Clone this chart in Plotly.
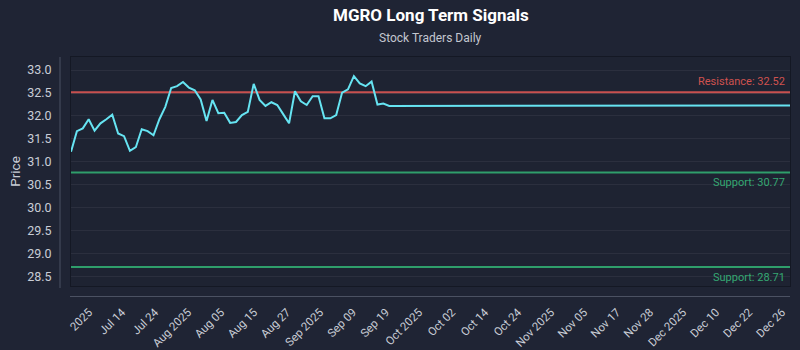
import numpy as np
import plotly.graph_objects as go

# ---------------- data ----------------
hist_prices = [31.22, 31.67, 31.73, 31.93, 31.68, 31.84, 31.93, 32.03, 31.62, 31.56,
               31.24, 31.32, 31.71, 31.67, 31.58, 31.93, 32.20, 32.61, 32.65, 32.74,
               32.62, 32.56, 32.36, 31.89, 32.35, 32.06, 32.07, 31.85, 31.87, 32.02,
               32.09, 32.70, 32.35, 32.22, 32.30, 32.24, 32.04, 31.84, 32.54, 32.32,
               32.24, 32.43, 32.43, 31.95, 31.95, 32.02, 32.51, 32.58, 32.87, 32.71,
               32.65, 32.75, 32.25, 32.27, 32.22]
forecast_prices = [32.22, 32.23, 32.22, 32.22, 32.23, 32.22, 32.22, 32.23, 32.22, 32.22,
                   32.23, 32.22, 32.22, 32.23, 32.22, 32.22, 32.23, 32.22, 32.22, 32.23,
                   32.22, 32.22, 32.23, 32.22, 32.22, 32.23, 32.22, 32.22, 32.23, 32.22,
                   32.22, 32.23, 32.22, 32.22, 32.23, 32.22, 32.22, 32.23, 32.22, 32.22,
                   32.23, 32.22, 32.22, 32.23, 32.22, 32.22, 32.23, 32.22, 32.22, 32.23,
                   32.22, 32.22, 32.23, 32.22, 32.22, 32.23, 32.22, 32.22, 32.23, 32.22,
                   32.22, 32.23, 32.22, 32.22, 32.23, 32.22, 32.22, 32.23]
resistance_levels = [32.52]
support_levels = [30.77, 28.71]
tick_labels = ["2025", "Jul 14", "Jul 24", "Aug 2025", "Aug 05", "Aug 15", "Aug 27",
               "Sep 2025", "Sep 09", "Sep 19", "Oct 2025", "Oct 02", "Oct 14", "Oct 24",
               "Nov 2025", "Nov 05", "Nov 17", "Nov 28", "Dec 2025", "Dec 10",
               "Dec 22", "Dec 26"]
title_text = "MGRO Long Term Signals"
subtitle_text = "Stock Traders Daily"
y_title = "Price"

# ---------------- figure ----------------
prices = hist_prices + forecast_prices
n = len(prices)
xs = list(range(n))

FONT = "Roboto"
BG = "#1f2434"
TXT = "#c9cdd6"
RED = "#c8504f"
GREEN = "#2f9e6b"
CYAN = "#66e4f2"

W, H = 800, 350
L, R, T, B = 71, 10, 57, 64
pw, ph = W - L - R, H - T - B

fig = go.Figure()
fig.add_trace(go.Scatter(x=xs, y=prices, mode="lines",
                         line=dict(color=CYAN, width=2), showlegend=False))

for r in resistance_levels:
    fig.add_hline(y=r, line=dict(color=RED, width=2), layer="below")
    fig.add_annotation(x=0.996, xref="paper", y=r, yref="y", xanchor="right",
                       yanchor="bottom", yshift=2, showarrow=False,
                       text=f"Resistance: {r:.2f}",
                       font=dict(family=FONT, size=11, color="#d0524f"))
for s in support_levels:
    fig.add_hline(y=s, line=dict(color=GREEN, width=2), layer="below")
    fig.add_annotation(x=0.996, xref="paper", y=s, yref="y", xanchor="right",
                       yanchor="top", yshift=-2, showarrow=False,
                       text=f"Support: {s:.2f}",
                       font=dict(family=FONT, size=11, color="#35a872"))

all_vals = prices + resistance_levels + support_levels
lo, hi = min(all_vals), max(all_vals)
pad = 0.1 * (hi - lo)

tickvals = list(np.linspace(3.05, 120.65, len(tick_labels)))

fig.update_xaxes(range=[0, n - 1], tickvals=tickvals, ticktext=tick_labels,
                 tickangle=-45, showgrid=False, zeroline=False, automargin=False,
                 showline=True, mirror=True, linecolor="#141824", linewidth=1,
                 ticks="", ticklabelstandoff=14,
                 tickfont=dict(family=FONT, size=11.5, color=TXT))
fig.update_yaxes(range=[lo - pad, hi + pad], dtick=0.5, tick0=28.5,
                 tickformat=".1f", showgrid=True, automargin=False,
                 gridcolor="rgba(255,255,255,0.06)", gridwidth=1, zeroline=False,
                 showline=True, mirror=True, linecolor="#141824", linewidth=1,
                 ticks="", ticklabelstandoff=16,
                 tickfont=dict(family=FONT, size=12.5, color=TXT),
                 title=dict(text=y_title, font=dict(family=FONT, size=13.5, color=TXT),
                            standoff=3))

# offset axis lines
fig.add_shape(type="line", xref="paper", yref="paper",
              x0=-11 / pw, x1=-11 / pw, y0=-2 / ph, y1=1.0,
              line=dict(color="#4b5162", width=1))
fig.add_shape(type="line", xref="paper", yref="paper",
              x0=-1 / pw, x1=1.0, y0=-10.5 / ph, y1=-10.5 / ph,
              line=dict(color="#4b5162", width=1))

# titles
fig.add_annotation(x=0.5, xref="paper", y=(H - 15 - B) / ph, yref="paper",
                   text=f"<b>{title_text}</b>", showarrow=False,
                   xanchor="center", yanchor="middle",
                   font=dict(family=FONT, size=17, color="#ffffff"))
fig.add_annotation(x=0.5, xref="paper", y=(H - 38 - B) / ph, yref="paper",
                   text=subtitle_text, showarrow=False,
                   xanchor="center", yanchor="middle",
                   font=dict(family=FONT, size=12, color="#c3c7d0"))

fig.update_layout(width=W, height=H, margin=dict(l=L, r=R, t=T, b=B),
                  paper_bgcolor=BG, plot_bgcolor="#1e2332",
                  font=dict(family=FONT, color=TXT), showlegend=False)

fig.write_html("out.html")
